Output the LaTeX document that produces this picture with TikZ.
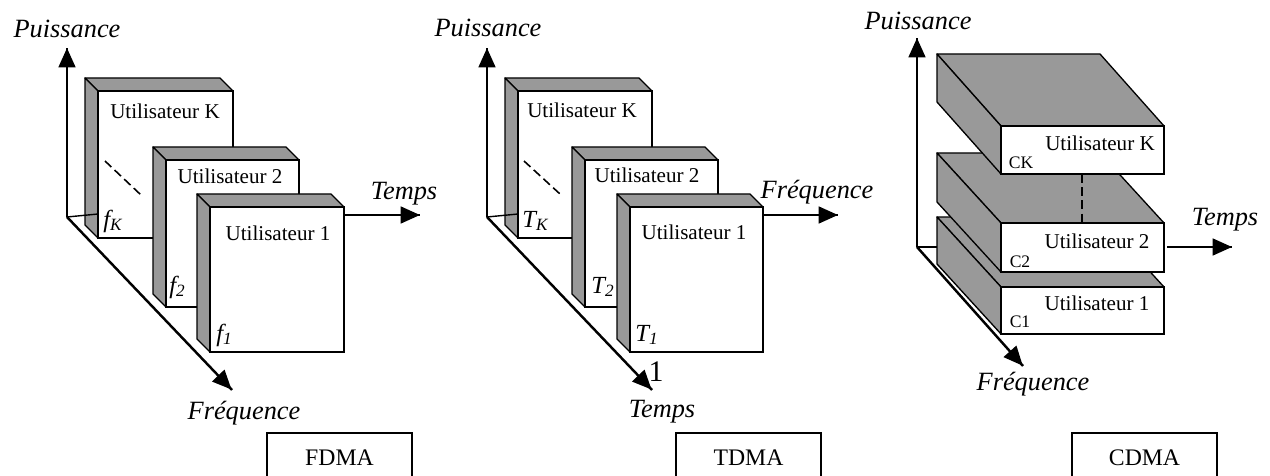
\documentclass[tikz,border=0pt]{standalone}
\usepackage{fontspec}
\setmainfont{Liberation Serif}
\usetikzlibrary{arrows.meta,decorations.markings}
\tikzset{->/.style = {decoration={markings, mark=at position 1 with {\arrow{Triangle[length=11pt,width=9.5pt]}}}, postaction={decorate}}}
\tikzset{face/.style = {fill=black!40, draw, line width=0.75pt, line join=round}}
\tikzset{avant/.style = {fill=white, draw, line width=0.75pt}}
\tikzset{axe/.style = {line width=1.4pt}}
\tikzset{fin/.style = {line width=0.8pt}}
\tikzset{tirets/.style = {line width=0.9pt, dash pattern=on 5pt off 2.5pt}}
\tikzset{axelab/.style = {font=\fontsize{15}{18}\selectfont\itshape, inner sep=0, anchor=base}}
\tikzset{util/.style = {font=\fontsize{12}{14}\selectfont, inner sep=0, anchor=base}}
\tikzset{indice/.style = {font=\fontsize{14}{16}\selectfont\itshape, inner sep=0, anchor=base west}}
\tikzset{code/.style = {font=\fontsize{10}{12}\selectfont, inner sep=0, anchor=base}}
\tikzset{cadre/.style = {draw, line width=1pt, minimum width=2.9cm, minimum height=1cm, inner sep=0, font=\fontsize{13.5}{16}\selectfont}}
% front face (#1,#2)-(#3,#4), depth (#5,#6) towards the upper left
\newcommand{\bloc}[6]{%
  \filldraw[face] (#1,#2) -- (#1-#5,#2-#6) -- (#3-#5,#2-#6) -- (#3,#2) -- cycle;
  \filldraw[face] (#1,#2) -- (#1-#5,#2-#6) -- (#1-#5,#4-#6) -- (#1,#4) -- cycle;
  \filldraw[avant] (#1,#2) rectangle (#3,#4);}

\begin{document}
\begin{tikzpicture}[x = 0.02cm, y = -0.02cm]
	\useasboundingbox (0,0) rectangle (1270,476);
	% FDMA
	\coordinate (oF) at (67,217);
	\coordinate (pF) at (67,48);
	\coordinate (fF) at (232,390);
	\coordinate (kF) at (98,214);
	\coordinate (sF) at (344,215);
	\coordinate (tF) at (420,215);
	\draw [axe,->] (oF) -- (pF);
	\draw [axe,->] (oF) -- (fF);
	\bloc{98}{91}{233}{238}{13}{13}
	\bloc{166}{160}{299}{307}{13}{13}
	\bloc{210}{207}{344}{352}{13}{13}
	\draw [fin] (oF) -- (kF);
	\draw [axe,->] (sF) -- (tF);
	\draw [tirets] (105,161) -- (141,195);
	\node [axelab] (puisF) at (67,38) {Puissance};
	\node [axelab] (tpsF) at (404,199) {Temps};
	\node [axelab] (freqF) at (244,419) {Fréquence};
	\node [util] (uKF) at (165,119) {Utilisateur K};
	\node [util] (u2F) at (230,184) {Utilisateur 2};
	\node [util] (u1F) at (278,240) {Utilisateur 1};
	\node [indice] (fK) at (103,227) {f\textsubscript{K}};
	\node [indice] (f2) at (169,293) {f\textsubscript{2}};
	\node [indice] (f1) at (216,341) {f\textsubscript{1}};
	\node [cadre] (fdma) at (339.5,458) {FDMA};
	% TDMA
	\coordinate (oT) at (487,217);
	\coordinate (pT) at (487,48);
	\coordinate (fT) at (652,390);
	\coordinate (kT) at (518,214);
	\coordinate (sT) at (763,215);
	\coordinate (tT) at (838,215);
	\draw [axe,->] (oT) -- (pT);
	\draw [axe,->] (oT) -- (fT);
	\bloc{518}{91}{652}{238}{13}{13}
	\bloc{585}{160}{718}{307}{13}{13}
	\bloc{630}{207}{763}{352}{13}{13}
	\draw [fin] (oT) -- (kT);
	\draw [axe,->] (sT) -- (tT);
	\draw [tirets] (524,161) -- (560,194);
	\node [axelab] (puisT) at (488,37) {Puissance};
	\node [axelab] (freqT) at (817,198) {Fréquence};
	\node [axelab] (tpsT) at (662,417) {Temps};
	\node [anchor=base, inner sep=0, font=\fontsize{17}{20}\selectfont] (un) at (656,381) {1};
	\node [util] (uKT) at (582,118) {Utilisateur K};
	\node [util] (u2T) at (647,183) {Utilisateur 2};
	\node [util] (u1T) at (694,239) {Utilisateur 1};
	\node [indice] (TK) at (522,227) {T\textsubscript{K}};
	\node [indice] (T2) at (591,293) {T\textsubscript{2}};
	\node [indice] (T1) at (635,341) {T\textsubscript{1}};
	\node [cadre] (tdma) at (748.5,458) {TDMA};
	% CDMA
	\coordinate (oC) at (917,247);
	\coordinate (pC) at (917,38);
	\coordinate (fC) at (1023,366);
	\coordinate (mC) at (1100,247);
	\coordinate (sC) at (1167,247);
	\coordinate (tC) at (1232,247);
	\draw [axe,->] (oC) -- (pC);
	\draw [axe,->] (oC) -- (fC);
	\draw [fin] (oC) -- (mC);
	\bloc{1001}{287}{1164}{334}{64}{70}
	\bloc{1001}{223}{1164}{272}{64}{70}
	\bloc{1001}{126}{1164}{174}{64}{72}
	\draw [axe,->] (sC) -- (tC);
	\draw [tirets] (1082,174) -- (1082,223);
	\node [axelab] (puisC) at (918,30) {Puissance};
	\node [axelab] (tpsC) at (1225,225) {Temps};
	\node [axelab] (freqC) at (1033,390) {Fréquence};
	\node [util] (uKC) at (1100,151) {Utilisateur K};
	\node [util] (u2C) at (1097,248) {Utilisateur 2};
	\node [util] (u1C) at (1097,310) {Utilisateur 1};
	\node [code] (cK) at (1021,169) {CK};
	\node [code] (c2) at (1020,267) {C2};
	\node [code] (c1) at (1020,327) {C1};
	\node [cadre] (cdma) at (1144.5,458) {CDMA};
\end{tikzpicture}
\end{document}
